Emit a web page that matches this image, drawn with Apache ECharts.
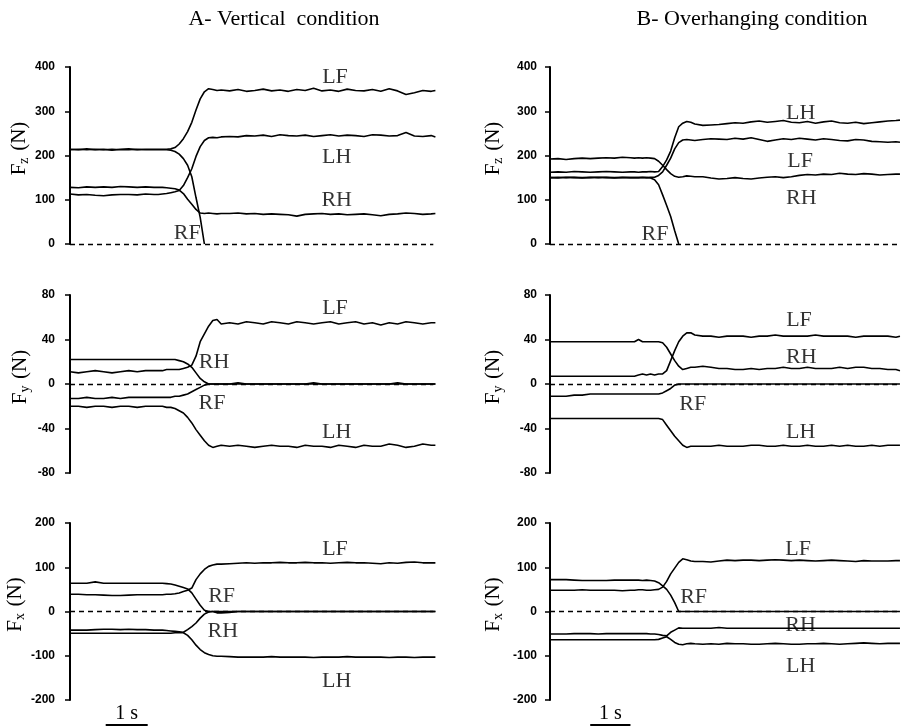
<!DOCTYPE html>
<html><head><meta charset="utf-8">
<script src="https://cdn.jsdelivr.net/npm/echarts@6/dist/echarts.min.js"></script>
<style>html,body{margin:0;padding:0;background:#fff}#c{width:908px;height:727px}</style>
</head><body><div id="c"></div>
<script>
// time (s)
const time = [0,0.2,0.4,0.6,0.8,1,1.2,1.4,1.6,1.8,2,
  2.1,2.2,2.3,2.4,2.5,2.6,2.7,2.8,2.9,3,3.1,3.2,3.3,3.4,3.5,3.6,
  3.8,4,4.2,4.4,4.6,4.8,5,5.2,5.4,5.6,5.8,6,6.2,6.4,6.6,6.8,7,7.2,7.4,7.6,7.8,8,8.2,8.4,8.6,8.7];

// A - Vertical, Fz
const aFzLF = [214,213,215,213,214,212,214,215,213,214,214,
  214,214,214,215,218,226,238,254,275,303,328,344,351,349,347,348,
  346,349,345,347,350,346,348,345,349,347,352,346,348,345,350,347,346,349,345,351,346,338,342,347,345,347];
const aFzRF = [213,214,213,214,213,214,213,213,214,213,213,
  213,213,213,212,209,203,193,178,152,105,60,0,null,null,null,null,
  null,null,null,null,null,null,null,null,null,null,null,null,null,null,null,null,null,null,null,null,null,null,null,null,null,null];
const aFzRH = [128,127,129,128,129,128,130,129,128,129,128,
  128,128,127,126,125,122,114,101,90,78,70,69,70,69,68,69,
  69,70,68,69,67,68,67,66,63,67,68,69,67,68,66,67,68,66,64,67,68,70,69,67,68,69];
const aFzLH = [113,111,112,110,109,111,112,112,111,113,112,
  112,113,114,116,118,121,132,150,170,198,220,234,240,241,240,242,
  243,242,245,244,246,243,247,245,244,246,243,245,247,244,246,245,243,247,246,244,245,252,244,243,245,242];

// B - Overhanging, Fz
const bFzRH = [192,193,191,193,194,193,194,195,194,196,195,
  194,195,194,195,194,193,187,178,168,159,153,151,152,154,153,152,
  152,149,147,148,150,148,147,149,151,152,150,152,155,157,156,158,157,160,158,157,159,158,156,157,158,158];
const bFzLH = [162,163,162,164,163,162,163,164,163,162,163,
  163,162,163,163,164,163,164,175,190,210,240,265,273,277,275,271,
  268,269,270,272,274,273,276,278,275,277,279,275,274,277,273,276,278,274,273,275,272,274,276,278,279,280];
const bFzLF = [150,149,151,150,149,150,151,150,149,150,150,
  150,150,151,150,151,151,155,163,178,194,215,229,235,236,235,234,
  236,238,237,236,239,237,240,236,232,235,238,236,239,237,235,238,236,234,233,236,235,232,231,230,231,230];
const bFzRF = [150,151,150,151,150,151,150,151,150,151,150,
  150,150,150,150,149,145,134,111,87,62,30,0,null,null,null,null,
  null,null,null,null,null,null,null,null,null,null,null,null,null,null,null,null,null,null,null,null,null,null,null,null,null,null];

// A - Vertical, Fy
const aFyLF = [11,10,11,12,11,10,11,12,11,12,12,
  12,12,13,13,13,13,14,15,17,25,38,45,52,57,58,54,
  55,54,56,55,54,56,55,54,56,55,54,55,56,54,55,56,54,55,53,55,54,56,55,54,55,55];
const aFyRH = [22,22,22,22,22,22,22,22,22,22,22,
  22,22,22,22,22,21,20,18,15,10,5,2,0,0,0,0,
  0,1,0,0,0,0,0,0,0,0,1,0,0,0,0,0,0,0,0,0,1,0,0,0,0,0];
const aFyRF = [-13,-13,-12,-13,-13,-12,-13,-12,-12,-12,-12,
  -12,-12,-12,-12,-11,-11,-10,-9,-7,-5,-3,-1,0,0,0,0,
  0,0,0,0,0,0,0,0,0,0,0,0,0,0,0,0,0,0,0,0,0,0,0,0,0,0];
const aFyLH = [-20,-20,-21,-20,-20,-21,-20,-20,-21,-20,-20,
  -20,-20,-21,-21,-22,-24,-26,-30,-35,-41,-46,-51,-55,-57,-56,-55,
  -56,-55,-56,-57,-56,-55,-56,-56,-57,-55,-56,-56,-57,-55,-56,-57,-55,-56,-56,-54,-55,-57,-56,-54,-55,-55];

// B - Overhanging, Fy
const bFyRH = [38,38,38,38,38,38,38,38,38,38,38,
  38,40,38,38,38,38,38,37,33,27,21,16,13,14,15,15,
  16,15,14,14,13,13,14,13,14,14,15,14,14,15,14,14,14,15,14,15,15,14,14,13,13,12];
const bFyLF = [7,7,7,7,7,7,7,7,7,7,7,
  7,8,9,8,9,8,9,9,12,21,30,38,43,46,46,44,
  43,43,42,43,43,43,42,43,43,44,43,43,43,43,44,43,43,43,43,42,43,43,43,43,42,43];
const bFyRF = [-11,-11,-11,-10,-10,-9,-9,-9,-9,-9,-9,
  -9,-9,-9,-9,-9,-9,-9,-8,-6,-4,-1,0,0,0,0,0,
  0,0,0,0,0,0,0,0,0,0,0,0,0,0,0,0,0,0,0,0,0,0,0,0,0,0];
const bFyLH = [-31,-31,-31,-31,-31,-31,-31,-31,-31,-31,-31,
  -31,-31,-31,-31,-31,-31,-31,-32,-37,-42,-47,-51,-55,-57,-56,-56,
  -56,-56,-55,-56,-56,-56,-55,-55,-56,-56,-55,-56,-56,-55,-56,-56,-55,-56,-55,-56,-56,-55,-56,-55,-55,-55];

// A - Vertical, Fx
const aFxRF = [64,64,64,67,64,64,64,64,64,64,64,
  64,64,63,62,60,57,54,51,42,28,14,3,0,0,-3,-3,
  -2,0,0,0,0,0,0,0,0,0,0,0,0,0,0,0,0,0,0,0,0,0,0,0,0,0];
const aFxLF = [39,39,38,38,37,36,36,37,38,38,38,
  38,38,39,39,40,42,45,48,53,72,85,95,102,105,107,107,
  108,109,110,109,110,110,111,110,110,111,110,110,109,110,111,110,110,109,108,110,109,111,112,110,110,110];
const aFxRH = [-42,-42,-42,-41,-40,-40,-41,-40,-41,-41,-42,
  -42,-42,-43,-44,-45,-46,-47,-41,-34,-26,-15,-6,-1,0,0,0,
  0,0,0,0,0,0,0,0,0,0,0,0,0,0,0,0,0,0,0,0,0,0,0,0,0,0];
const aFxLH = [-49,-49,-49,-49,-49,-49,-49,-49,-49,-49,-49,
  -49,-49,-49,-49,-48,-48,-48,-54,-64,-76,-86,-93,-97,-100,-101,-101,
  -102,-103,-103,-103,-103,-102,-103,-103,-103,-103,-104,-103,-103,-103,-102,-103,-103,-103,-103,-104,-103,-103,-104,-103,-103,-103];

// B - Overhanging, Fx
const bFxRF = [72,72,72,71,70,70,70,70,71,71,71,
  71,71,70,71,70,69,65,58,50,37,20,0,0,0,0,0,
  0,0,0,0,0,0,0,0,0,0,0,0,0,0,0,0,0,0,0,0,0,0,0,0,0,0];
const bFxLF = [48,48,48,48,49,48,48,48,48,47,48,
  48,49,49,48,48,49,50,55,68,85,98,111,119,117,114,113,
  113,112,114,116,115,116,116,115,116,117,116,115,116,115,114,115,116,115,114,113,115,114,114,114,115,115];
const bFxRH = [-51,-51,-51,-50,-50,-50,-51,-50,-50,-50,-50,
  -50,-50,-50,-50,-51,-51,-52,-54,-55,-47,-42,-37,-38,-38,-38,-38,
  -38,-38,-36,-38,-38,-38,-38,-38,-38,-38,-38,-38,-38,-38,-38,-38,-38,-38,-38,-38,-38,-38,-38,-38,-38,-38];
const bFxLH = [-64,-64,-64,-64,-64,-64,-64,-64,-64,-64,-64,
  -64,-64,-64,-64,-64,-64,-63,-60,-57,-63,-70,-74,-75,-73,-72,-73,
  -74,-73,-74,-72,-73,-73,-74,-74,-73,-72,-73,-74,-74,-73,-73,-72,-73,-74,-73,-72,-71,-72,-73,-72,-72,-72];

// y-axis ticks [min, max, interval]
const fzTicks = [0, 400, 100];
const fyTicks = [-80, 80, 40];
const fxTicks = [-200, 200, 100];

const titles = ['A- Vertical  condition', 'B- Overhanging condition'];
const seriesNames = ['LF', 'LH', 'RH', 'RF'];

const panels = [
  {col:0, row:0, ticks:fzTicks, sub:'z', data:{LF:aFzLF, LH:aFzLH, RH:aFzRH, RF:aFzRF},
    notes:[['LF',6.31,377],['LH',6.35,197],['RH',6.35,100],['RF',2.79,25]]},
  {col:1, row:0, ticks:fzTicks, sub:'z', data:{LF:bFzLF, LH:bFzLH, RH:bFzRH, RF:bFzRF},
    notes:[['LH',6.23,295],['LF',6.22,186],['RH',6.25,104],['RF',2.61,21]]},
  {col:0, row:1, ticks:fyTicks, sub:'y', data:{LF:aFyLF, LH:aFyLH, RH:aFyRH, RF:aFyRF},
    notes:[['LF',6.31,68],['RH',3.43,20],['RF',3.38,-17],['LH',6.35,-43.5]]},
  {col:1, row:1, ticks:fyTicks, sub:'y', data:{LF:bFyLF, LH:bFyLH, RH:bFyRH, RF:bFyRF},
    notes:[['LF',6.19,57],['RH',6.25,24],['RF',3.55,-18],['LH',6.23,-43]]},
  {col:0, row:2, ticks:fxTicks, sub:'x', data:{LF:aFxLF, LH:aFxLH, RH:aFxRH, RF:aFxRF},
    notes:[['LF',6.31,140],['RF',3.61,35],['RH',3.64,-44],['LH',6.35,-157]]},
  {col:1, row:2, ticks:fxTicks, sub:'x', data:{LF:bFxLF, LH:bFxLH, RH:bFxRH, RF:bFxRF},
    notes:[['LF',6.17,140],['RF',3.57,33],['RH',6.23,-32],['LH',6.23,-123]]}
];

const X_MAX = 8.9, ZERO_END = 8.65;
const colLeft = [70, 550], rowTop = [67, 295, 523], rowH = [177, 178, 177];
const nameGap = [38, 45], labelMargin = [15, 13];
const titleCenter = [284, 752];
const SERIF = '"Liberation Serif", "Times New Roman", serif';
const SANS = '"Liberation Sans", Arial, sans-serif';
const INK = '#000';

const grid = [], xAxis = [], yAxis = [], series = [];
panels.forEach((p, i) => {
  grid.push({left: colLeft[p.col], top: rowTop[p.row], width: X_MAX * 42, height: rowH[p.row], containLabel: false});
  xAxis.push({gridIndex: i, type: 'value', min: 0, max: X_MAX, show: false});
  yAxis.push({
    gridIndex: i, type: 'value', min: p.ticks[0], max: p.ticks[1], interval: p.ticks[2],
    name: '{f|F}{s|' + p.sub + '}  {f|(N)}', nameLocation: 'middle', nameGap: nameGap[p.col],
    nameTextStyle: {padding: [0, 0, 0, 14], rich: {
      f: {fontFamily: SERIF, fontSize: 21, color: INK},
      s: {fontFamily: SERIF, fontSize: 14, color: INK, padding: [10, 0, 0, 0]}
    }},
    axisLine: {show: true, lineStyle: {color: INK, width: 2}},
    axisTick: {show: true, length: 5, lineStyle: {color: INK, width: 1.5}},
    axisLabel: {margin: labelMargin[p.col], color: INK, fontFamily: SANS, fontSize: 12, fontWeight: 'bold'},
    splitLine: {show: false}
  });
  seriesNames.forEach((nm, k) => {
    const vals = p.data[nm];
    const s = {
      type: 'line', name: nm, xAxisIndex: i, yAxisIndex: i,
      data: time.map((t, j) => [t, vals[j]]),
      showSymbol: false, symbol: 'none', connectNulls: false, animation: false, silent: true,
      lineStyle: {color: INK, width: 1.6}, z: 3
    };
    if (k === 0) {
      s.markLine = {
        silent: true, animation: false, symbol: ['none', 'none'],
        lineStyle: {color: INK, width: 1.3, type: [5, 4]}, label: {show: false},
        data: [[{coord: [0, 0]}, {coord: [ZERO_END, 0]}]]
      };
    }
    series.push(s);
  });
  series.push({
    type: 'scatter', xAxisIndex: i, yAxisIndex: i, symbolSize: 0, animation: false, silent: true,
    data: p.notes.map(n => ({name: n[0], value: [n[1], n[2]]})),
    label: {show: true, position: 'inside', formatter: '{b}', fontFamily: SERIF, fontSize: 22, color: INK},
    z: 5
  });
});

const chart = echarts.init(document.getElementById('c'), null, {renderer: 'canvas'});
chart.setOption({animation: false, backgroundColor: '#fff', grid, xAxis, yAxis, series});

// titles and 1 s scale bars (bars placed via the bottom panels' axes)
const scaleStart = [0.85, 1.0];
const graphic = [];
[0, 1].forEach(c => {
  const gi = 4 + c;
  graphic.push({type: 'text', x: titleCenter[c], y: 19,
    style: {text: titles[c], font: '22px ' + SERIF, fill: INK, textAlign: 'center', textVerticalAlign: 'middle'}});
  const a = chart.convertToPixel({gridIndex: gi}, [scaleStart[c], -200]);
  const b = chart.convertToPixel({gridIndex: gi}, [scaleStart[c] + 1, -200]);
  graphic.push({type: 'line', shape: {x1: a[0], y1: a[1] + 25, x2: b[0], y2: b[1] + 25},
    style: {stroke: INK, lineWidth: 2}});
  graphic.push({type: 'text', x: (a[0] + b[0]) / 2, y: a[1] + 14,
    style: {text: '1 s', font: '20px ' + SERIF, fill: INK, textAlign: 'center', textVerticalAlign: 'middle'}});
});
chart.setOption({graphic});
</script>
</body></html>
